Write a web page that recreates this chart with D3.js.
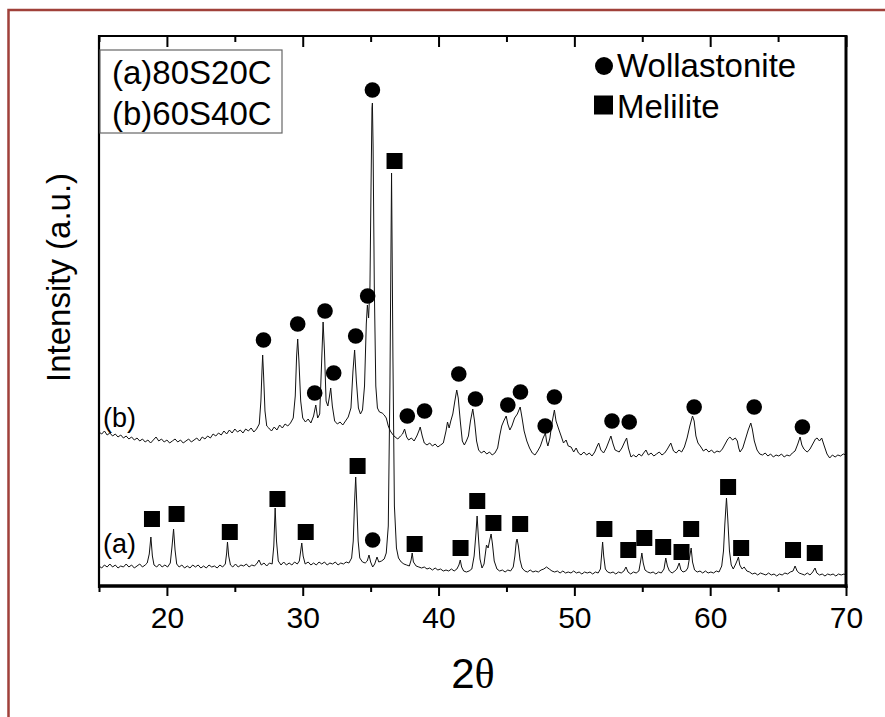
<!DOCTYPE html>
<html><head><meta charset="utf-8">
<script src="https://cdn.jsdelivr.net/npm/d3@7"></script>
<style>body{margin:0;background:#fff}svg{display:block}</style>
</head><body>
<svg id="chart" width="885" height="717"></svg>
<script>
// ---- data (2θ, intensity a.u.) ----
const xTicksMajor = [20, 30, 40, 50, 60, 70];
const xTicksMinor = [15, 25, 35, 45, 55, 65];
const seriesNames = ["(a)", "(b)"];
const sampleLabels = ["(a)80S20C", "(b)60S40C"];
const phaseNames = ["Wollastonite", "Melilite"];

const traceA = [[15.0,20],[15.2,18],[15.4,21],[15.6,19],[15.8,22],[16.0,19],[16.2,21],[16.4,18],[16.6,20],[16.8,19],[17.0,22],[17.2,19],[17.4,21],[17.6,18],[17.8,20],[18.0,22],[18.2,19],[18.4,21],[18.55,23],[18.7,32],[18.82,49],[18.93,30],[19.05,21],[19.25,19],[19.45,22],[19.65,19],[19.85,21],[20.05,19],[20.25,23],[20.38,40],[20.49,57],[20.6,36],[20.72,22],[20.9,19],[21.1,21],[21.3,18],[21.5,20],[21.7,18],[21.9,21],[22.1,19],[22.3,21],[22.5,18],[22.7,20],[22.9,18],[23.1,21],[23.3,19],[23.5,20],[23.7,18],[23.9,21],[24.1,19],[24.3,22],[24.4,33],[24.46,44],[24.55,30],[24.68,21],[24.85,19],[25.05,22],[25.25,19],[25.45,21],[25.65,20],[25.85,22],[26.05,19],[26.25,21],[26.45,20],[26.65,23],[26.78,26],[26.95,21],[27.15,23],[27.35,20],[27.55,23],[27.75,22],[27.87,40],[27.97,78],[28.07,45],[28.2,25],[28.4,21],[28.6,24],[28.8,21],[29.0,23],[29.2,21],[29.4,24],[29.6,22],[29.75,25],[29.85,35],[29.93,43],[30.03,30],[30.18,22],[30.4,24],[30.6,21],[30.8,23],[31.0,21],[31.2,24],[31.4,22],[31.6,24],[31.8,21],[32.0,23],[32.2,22],[32.4,24],[32.6,21],[32.8,23],[33.0,22],[33.2,24],[33.4,23],[33.6,28],[33.72,45],[33.82,85],[33.9,109],[33.98,82],[34.08,45],[34.2,28],[34.4,24],[34.6,23],[34.75,25],[34.88,31],[35.0,24],[35.15,19],[35.3,22],[35.47,29],[35.6,24],[35.8,25],[36.0,27],[36.15,33],[36.3,60],[36.42,200],[36.54,413],[36.64,230],[36.75,80],[36.9,38],[37.05,28],[37.25,24],[37.45,22],[37.65,21],[37.85,20],[37.98,26],[38.06,33],[38.15,24],[38.35,20],[38.55,19],[38.75,18],[38.95,19],[39.15,17],[39.35,18],[39.55,16],[39.75,18],[39.95,16],[40.15,17],[40.35,15],[40.55,16],[40.75,15],[40.95,17],[41.15,15],[41.35,17],[41.5,21],[41.6,26],[41.7,19],[41.85,15],[42.05,14],[42.25,15],[42.45,17],[42.62,30],[42.75,52],[42.84,70],[42.93,50],[43.05,27],[43.2,18],[43.35,22],[43.53,41],[43.65,38],[43.77,46],[43.87,52],[43.97,42],[44.1,25],[44.3,17],[44.5,15],[44.7,16],[44.9,14],[45.1,16],[45.3,15],[45.5,19],[45.62,30],[45.72,44],[45.78,47],[45.88,40],[46.0,26],[46.15,18],[46.35,15],[46.55,14],[46.75,16],[46.95,14],[47.15,15],[47.35,14],[47.55,16],[47.75,17],[47.95,19],[48.15,17],[48.35,15],[48.55,14],[48.75,15],[48.95,13],[49.15,15],[49.35,13],[49.55,14],[49.75,13],[49.95,15],[50.15,13],[50.35,14],[50.55,12],[50.75,14],[50.95,13],[51.15,14],[51.35,12],[51.55,14],[51.75,13],[51.92,17],[52.0,30],[52.08,44],[52.16,30],[52.28,17],[52.45,14],[52.65,13],[52.85,14],[53.05,12],[53.25,14],[53.45,13],[53.65,15],[53.8,19],[53.95,14],[54.15,12],[54.35,14],[54.55,13],[54.75,15],[54.88,25],[54.97,33],[55.07,23],[55.2,16],[55.4,14],[55.6,13],[55.8,14],[56.0,12],[56.2,14],[56.4,13],[56.6,17],[56.73,28],[56.85,20],[57.0,15],[57.2,13],[57.4,15],[57.55,17],[57.72,23],[57.85,16],[58.0,14],[58.2,15],[58.35,18],[58.5,30],[58.6,38],[58.7,24],[58.85,16],[59.05,14],[59.25,15],[59.45,13],[59.65,15],[59.85,13],[60.05,14],[60.25,13],[60.45,15],[60.65,14],[60.85,20],[60.98,35],[61.08,62],[61.2,88],[61.3,66],[61.42,35],[61.55,21],[61.7,17],[61.88,22],[62.0,26],[62.08,29],[62.18,21],[62.35,17],[62.5,19],[62.7,15],[62.9,14],[63.1,12],[63.3,13],[63.5,11],[63.7,13],[63.9,12],[64.1,11],[64.3,13],[64.5,11],[64.7,12],[64.9,10],[65.1,12],[65.3,11],[65.5,13],[65.7,12],[65.9,14],[66.1,15],[66.25,20],[66.4,15],[66.55,13],[66.75,12],[66.95,11],[67.15,13],[67.35,11],[67.55,14],[67.72,18],[67.85,13],[68.05,11],[68.25,12],[68.45,10],[68.65,12],[68.85,11],[69.05,12],[69.25,10],[69.45,12],[69.65,11],[69.85,12],[70.0,11]];

const traceB = [[15.0,154],[15.2,152],[15.4,155],[15.6,151],[15.8,153],[16.0,150],[16.2,152],[16.4,149],[16.6,151],[16.8,148],[17.0,150],[17.2,147],[17.4,149],[17.6,146],[17.8,148],[18.0,145],[18.2,147],[18.4,144],[18.6,146],[18.8,143],[19.0,146],[19.2,149],[19.4,145],[19.6,147],[19.8,144],[20.0,146],[20.2,143],[20.4,145],[20.6,147],[20.8,144],[21.0,146],[21.2,143],[21.4,145],[21.6,147],[21.8,144],[22.0,146],[22.2,148],[22.4,145],[22.6,149],[22.8,147],[23.0,150],[23.2,148],[23.4,152],[23.6,150],[23.8,153],[24.0,151],[24.2,155],[24.4,152],[24.6,156],[24.8,153],[25.0,157],[25.2,154],[25.4,156],[25.6,153],[25.8,157],[26.0,155],[26.2,158],[26.4,154],[26.6,157],[26.8,162],[26.92,185],[27.0,215],[27.05,231],[27.12,210],[27.22,175],[27.35,160],[27.5,158],[27.7,155],[27.9,159],[28.1,156],[28.3,161],[28.5,158],[28.7,162],[28.9,160],[29.1,163],[29.3,168],[29.45,190],[29.55,230],[29.63,247],[29.72,225],[29.85,185],[30.0,168],[30.2,164],[30.4,167],[30.6,163],[30.8,170],[30.96,181],[31.1,168],[31.25,172],[31.38,220],[31.5,264],[31.6,235],[31.72,185],[31.85,180],[31.95,188],[32.06,198],[32.18,180],[32.35,165],[32.55,162],[32.75,164],[32.95,161],[33.15,165],[33.35,169],[33.55,178],[33.7,215],[33.82,236],[33.95,205],[34.1,178],[34.25,172],[34.4,176],[34.55,200],[34.68,262],[34.76,281],[34.85,268],[34.95,300],[35.03,400],[35.1,478],[35.13,483],[35.18,440],[35.27,300],[35.38,200],[35.5,178],[35.65,174],[35.85,173],[36.0,171],[36.15,168],[36.3,160],[36.45,155],[36.6,152],[36.8,149],[37.0,147],[37.2,150],[37.35,152],[37.5,157],[37.65,149],[37.8,146],[38.0,148],[38.2,145],[38.4,150],[38.55,155],[38.65,159],[38.8,150],[38.95,143],[39.15,141],[39.35,143],[39.55,140],[39.75,142],[39.95,139],[40.15,141],[40.35,143],[40.55,155],[40.66,164],[40.78,158],[40.9,165],[41.05,172],[41.2,185],[41.34,196],[41.45,188],[41.6,165],[41.75,145],[41.9,141],[42.05,145],[42.2,150],[42.35,165],[42.52,177],[42.65,165],[42.8,145],[42.95,136],[43.15,133],[43.35,135],[43.55,132],[43.75,134],[43.95,131],[44.15,133],[44.35,138],[44.5,150],[44.65,160],[44.8,165],[44.98,170],[45.1,162],[45.25,156],[45.4,160],[45.6,168],[45.8,172],[46.01,179],[46.15,168],[46.3,155],[46.5,145],[46.7,138],[46.9,133],[47.1,131],[47.3,135],[47.5,140],[47.7,148],[47.87,153],[47.95,145],[48.05,140],[48.2,148],[48.35,163],[48.53,176],[48.65,165],[48.87,156],[49.05,149],[49.2,143],[49.39,146],[49.55,140],[49.76,139],[49.95,134],[50.13,138],[50.3,133],[50.49,131],[50.7,134],[50.9,131],[51.1,133],[51.3,130],[51.5,134],[51.65,139],[51.79,143],[51.95,136],[52.15,133],[52.35,138],[52.55,145],[52.69,150],[52.85,142],[53.0,136],[53.15,135],[53.3,134],[53.5,138],[53.7,144],[53.85,148],[53.98,138],[54.17,129],[54.35,131],[54.55,129],[54.75,132],[54.95,130],[55.1,133],[55.27,136],[55.45,131],[55.65,133],[55.85,130],[56.05,132],[56.25,134],[56.45,131],[56.65,133],[56.85,137],[57.1,143],[57.3,135],[57.5,133],[57.7,136],[57.9,134],[58.1,139],[58.3,148],[58.5,160],[58.7,170],[58.82,165],[58.95,150],[59.1,143],[59.32,139],[59.5,135],[59.7,137],[59.9,134],[60.1,136],[60.3,133],[60.5,135],[60.7,134],[60.9,137],[61.1,142],[61.3,147],[61.45,149],[61.65,146],[61.85,148],[62.0,145],[62.1,138],[62.2,134],[62.4,138],[62.6,147],[62.8,156],[62.99,163],[63.1,157],[63.25,145],[63.45,136],[63.65,132],[63.85,131],[64.05,133],[64.25,130],[64.45,132],[64.65,129],[64.85,131],[65.05,130],[65.25,132],[65.45,129],[65.65,131],[65.85,130],[66.05,133],[66.25,135],[66.45,142],[66.62,149],[66.75,141],[66.9,137],[67.05,135],[67.15,134],[67.35,137],[67.55,142],[67.75,147],[67.87,148],[68.05,145],[68.21,148],[68.4,140],[68.6,132],[68.8,128],[69.0,131],[69.2,129],[69.4,131],[69.6,130],[69.8,132],[70.0,131]];

// phase markers (2θ, intensity)
const wollastonite = [[27.11,246],[29.63,262],[30.88,193],[31.64,275],[32.28,213],[33.90,250],[34.78,290],[35.13,496],[35.15,46],[37.70,170],[38.97,175],[41.49,212],[42.72,187],[45.10,181],[46.03,194],[47.85,160],[48.53,189],[52.77,165],[54.04,164],[58.82,179],[63.24,179],[66.79,159]];
const melilite = [[18.90,67],[20.71,72],[24.63,54],[28.14,87],[30.22,54],[34.04,120],[36.76,425],[38.24,42],[41.62,38],[42.85,85],[44.04,63],[46.01,62],[52.21,57],[53.97,36],[55.15,48],[56.54,39],[57.89,34],[58.60,57],[61.32,99],[62.28,38],[66.10,36],[67.70,33]];
// series label anchor points (2θ, intensity)
const seriesLabelPos = [[15.3,33],[15.3,159]];

// ---- drawing ----
const W = 885, H = 717;
const FONT = "'Liberation Sans', Arial, Helvetica, sans-serif";
const svg = d3.select("#chart");
svg.append("rect").attr("width", W).attr("height", H).attr("fill", "#fff");

// outer frame (only top/left visible)
svg.append("path").attr("d", "M8.5,717 V10 H885").attr("fill", "none")
  .attr("stroke", "#a0403a").attr("stroke-width", 2.5);

const x = d3.scaleLinear().domain([15, 70]).range([99, 846]);
const y = d3.scaleLinear().domain([0, 550]).range([586, 36]);

svg.append("defs").append("clipPath").attr("id", "plotclip")
  .append("rect").attr("x", 99).attr("y", 36).attr("width", 747).attr("height", 550);

// traces
const line = d3.line().x(d => x(d[0])).y(d => y(d[1]));
const gTr = svg.append("g").attr("clip-path", "url(#plotclip)");
[traceA, traceB].forEach(t => {
  gTr.append("path").datum(t).attr("d", line).attr("fill", "none")
    .attr("stroke", "#111").attr("stroke-width", 1).attr("stroke-linejoin", "round");
});

// markers
svg.append("g").selectAll("circle").data(wollastonite).join("circle")
  .attr("cx", d => x(d[0])).attr("cy", d => y(d[1])).attr("r", 7.8).attr("fill", "#000");
svg.append("g").selectAll("rect").data(melilite).join("rect")
  .attr("x", d => x(d[0]) - 8).attr("y", d => y(d[1]) - 8)
  .attr("width", 16).attr("height", 16).attr("fill", "#000");

// axes
function styleAxis(g) {
  g.select(".domain").remove();
  g.selectAll(".tick line").attr("stroke", "#000").attr("stroke-width", 2);
}
const gB = svg.append("g").attr("transform", "translate(0,586)")
  .call(d3.axisBottom(x).tickValues(xTicksMajor).tickSize(10).tickSizeOuter(0).tickFormat(d3.format("d")));
styleAxis(gB);
gB.selectAll("text").attr("y", 42).attr("dy", 0).attr("font-size", 30)
  .attr("font-family", FONT).attr("fill", "#000");
const gBm = svg.append("g").attr("transform", "translate(0,586)")
  .call(d3.axisBottom(x).tickValues(xTicksMinor).tickSize(6).tickSizeOuter(0).tickFormat(""));
styleAxis(gBm);

const gT = svg.append("g").attr("transform", "translate(0,36)")
  .call(d3.axisTop(x).tickValues(xTicksMajor).tickSize(-11).tickSizeOuter(0).tickFormat(""));
styleAxis(gT);
const gTm = svg.append("g").attr("transform", "translate(0,36)")
  .call(d3.axisTop(x).tickValues(xTicksMinor).tickSize(-6).tickSizeOuter(0).tickFormat(""));
styleAxis(gTm);

// frame lines
svg.append("line").attr("x1", 99).attr("x2", 99).attr("y1", 35).attr("y2", 588).attr("stroke", "#000").attr("stroke-width", 2.2);
svg.append("line").attr("x1", 98).attr("x2", 847).attr("y1", 36).attr("y2", 36).attr("stroke", "#000").attr("stroke-width", 2.2);
svg.append("line").attr("x1", 846).attr("x2", 846).attr("y1", 35).attr("y2", 588).attr("stroke", "#000").attr("stroke-width", 3);
svg.append("line").attr("x1", 98).attr("x2", 847.5).attr("y1", 586).attr("y2", 586).attr("stroke", "#000").attr("stroke-width", 3.5);

// axis titles
svg.append("text").attr("transform", "translate(70,382) rotate(-90)")
  .attr("font-family", FONT).attr("font-size", 33).attr("fill", "#000")
  .text("Intensity (a.u.)");
const xt = svg.append("text").attr("x", 473).attr("y", 688).attr("text-anchor", "middle")
  .attr("font-family", FONT).attr("font-size", 42).attr("fill", "#000");
xt.append("tspan").text("2");
xt.append("tspan").attr("font-family", "'Liberation Serif', 'Times New Roman', serif").text("θ");

// sample legend box
svg.append("rect").attr("x", 100).attr("y", 50).attr("width", 182).attr("height", 83)
  .attr("fill", "#fff").attr("stroke", "#666").attr("stroke-width", 1.2);
sampleLabels.forEach((s, i) => {
  svg.append("text").attr("x", 112).attr("y", 84 + i * 41)
    .attr("font-family", FONT).attr("font-size", 33).attr("fill", "#000").text(s);
});

// phase legend
svg.append("circle").attr("cx", 604).attr("cy", 66).attr("r", 9).attr("fill", "#000");
svg.append("rect").attr("x", 594).attr("y", 95.5).attr("width", 19).attr("height", 19).attr("fill", "#000");
phaseNames.forEach((s, i) => {
  svg.append("text").attr("x", 617).attr("y", 77 + i * 41)
    .attr("font-family", FONT).attr("font-size", 33).attr("fill", "#000").text(s);
});

// series labels
seriesNames.forEach((s, i) => {
  const p = seriesLabelPos[i];
  svg.append("text").attr("x", x(p[0])).attr("y", y(p[1]))
    .attr("font-family", FONT).attr("font-size", 27).attr("fill", "#000").text(s);
});
</script>
</body></html>
